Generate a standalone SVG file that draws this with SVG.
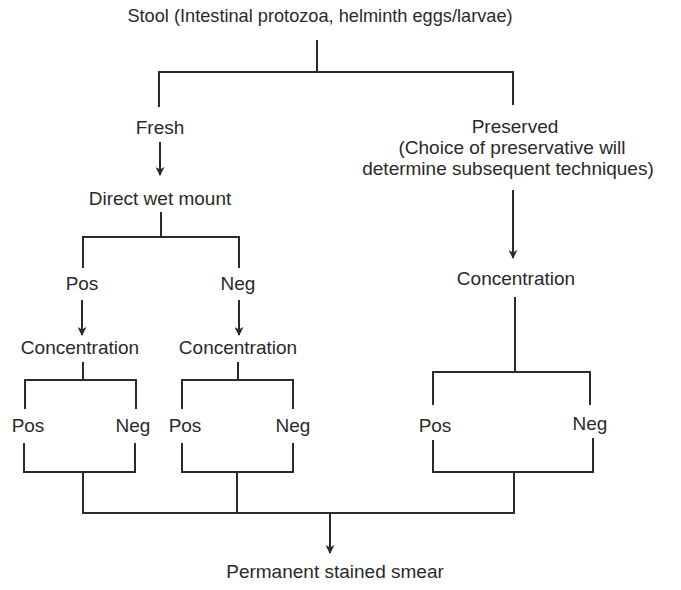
<svg xmlns="http://www.w3.org/2000/svg" width="681" height="590" viewBox="0 0 681 590">
<style>
text{font-family:"Liberation Sans",Arial,sans-serif;font-size:19px;fill:#2a2a2a;text-anchor:middle}
.t{font-size:18.2px}
.c path{fill:none;stroke:#2a2a2a;stroke-width:2}
</style>
<defs>
<marker id="ah" viewBox="0 0 10 10" refX="9" refY="5" markerWidth="9" markerHeight="9" markerUnits="userSpaceOnUse" orient="auto">
<path d="M0,0 L10,5 L0,10 L3,5 Z" fill="#2a2a2a"/>
</marker>
</defs>
<rect width="681" height="590" fill="#fff"/>
<g class="c" id="connectors">
<path d="M317,40 V72 M159,107 V72 H513 V105"/>
<path d="M160,142 V175" marker-end="url(#ah)"/>
<path d="M161,212 V237 M83,268 V237 H239 V268"/>
<path d="M82,300 V335" marker-end="url(#ah)"/>
<path d="M239,300 V335" marker-end="url(#ah)"/>
<path d="M83,362 V380 M25,409 V380 H136 V409"/>
<path d="M238,362 V380 M182,409 V380 H293 V409"/>
<path d="M24,443 V472 H135 V443"/>
<path d="M182,443 V472 H293 V443"/>
<path d="M513,190 V258" marker-end="url(#ah)"/>
<path d="M515,297 V372 M433,405 V372 H590 V405"/>
<path d="M433,440 V472 H593 V438"/>
<path d="M83,472 V513 H514 V472 M237,472 V513"/>
<path d="M330,513 V553" marker-end="url(#ah)"/>
</g>
<g id="stool"><text class="t" x="320" y="22">Stool (Intestinal protozoa, helminth eggs/larvae)</text></g>
<g id="fresh"><text x="160" y="134">Fresh</text></g>
<g id="preserved"><text x="515" y="133">Preserved</text><text x="512" y="154">(Choice of preservative will</text><text x="508" y="175">determine subsequent techniques)</text></g>
<g id="wetmount"><text x="160" y="205">Direct wet mount</text></g>
<g id="pos1"><text x="82" y="290">Pos</text></g>
<g id="neg1"><text x="238" y="290">Neg</text></g>
<g id="conc1"><text x="80" y="354">Concentration</text></g>
<g id="conc2"><text x="238" y="354">Concentration</text></g>
<g id="conc3"><text x="516" y="285">Concentration</text></g>
<g id="pos2"><text x="28" y="432">Pos</text></g>
<g id="neg2"><text x="133" y="432">Neg</text></g>
<g id="pos3"><text x="185" y="432">Pos</text></g>
<g id="neg3"><text x="293" y="432">Neg</text></g>
<g id="pos4"><text x="435" y="432">Pos</text></g>
<g id="neg4"><text x="590" y="430">Neg</text></g>
<g id="smear"><text x="335" y="578">Permanent stained smear</text></g>
</svg>
